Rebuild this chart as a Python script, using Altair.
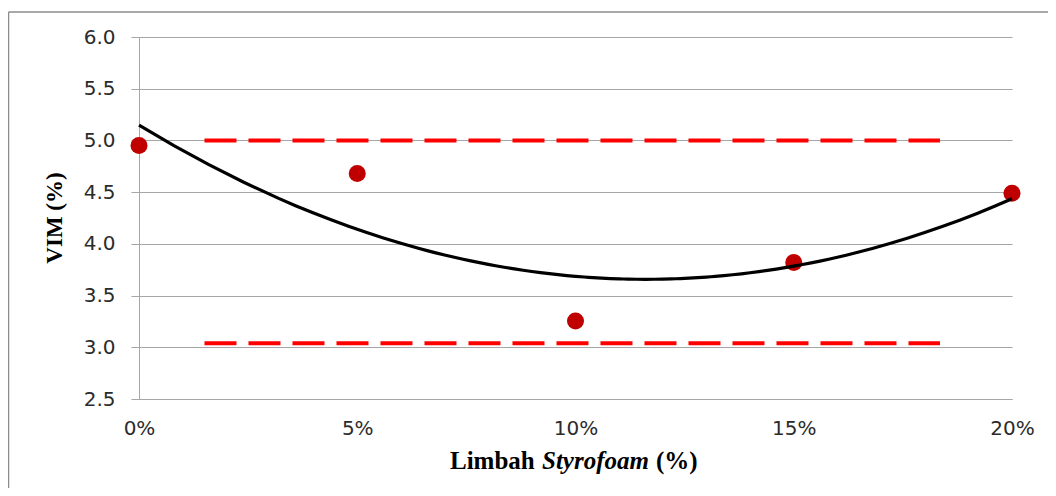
import altair as alt
import pandas as pd

# Data
styrofoam_pct = [0, 5, 10, 15, 20]
vim_values = [4.95, 4.68, 3.255, 3.82, 4.49]

limit_levels = [5.0, 3.04]
limit_start = [1.5, 1.5]
limit_end = [18.35, 18.35]

y_ticks = [2.5, 3.0, 3.5, 4.0, 4.5, 5.0, 5.5, 6.0]
x_ticks = [0, 5, 10, 15, 20]

pts = pd.DataFrame({"x": styrofoam_pct, "y": vim_values})
lims = pd.DataFrame({"x": limit_start, "x2": limit_end, "y": limit_levels})

W, H = 873, 362
GRID = "#A6A6A6"
TICKFONT = "DejaVu Sans"
TITLEFONT = "Liberation Serif"

xs = alt.Scale(domain=[0, 20], nice=False, zero=False)
ys = alt.Scale(domain=[2.5, 6.0], nice=False, zero=False)

base = alt.Chart(pts)

points = base.mark_circle(size=290, color="#C00000", opacity=1).encode(
    x=alt.X("x:Q", scale=xs,
            axis=alt.Axis(values=x_ticks, labelExpr="datum.value + '%'", grid=False,
                          ticks=False, tickSize=0, domain=True, domainColor=GRID,
                          labelPadding=19, labelFont=TICKFONT, labelFontSize=20,
                          labelColor="#2b2b2b", title=None, labelFlush=False)),
    y=alt.Y("y:Q", scale=ys,
            axis=alt.Axis(values=y_ticks, format=".1f", grid=True, gridColor=GRID,
                          domainColor=GRID, tickColor=GRID, tickSize=8,
                          labelPadding=16, labelFont=TICKFONT, labelFontSize=20,
                          labelColor="#2b2b2b", title=None)),
)

trend = base.transform_regression("x", "y", method="poly", order=2, extent=[0, 20]).mark_line(
    color="black", strokeWidth=3.2
).encode(x=alt.X("x:Q", scale=xs), y=alt.Y("y:Q", scale=ys))

limits = alt.Chart(lims).mark_rule(color="#FF0000", strokeWidth=4, strokeDash=[32, 12]).encode(
    x=alt.X("x:Q", scale=xs), x2="x2:Q", y=alt.Y("y:Q", scale=ys)
)

xt1 = alt.Chart(pd.DataFrame({"t": ["Limbah"]})).mark_text(
    align="left", baseline="alphabetic", font=TITLEFONT, fontSize=25, fontWeight="bold", color="black"
).encode(text="t:N", x=alt.value(311), y=alt.value(432))
xt2 = alt.Chart(pd.DataFrame({"t": ["Styrofoam"]})).mark_text(
    align="left", baseline="alphabetic", font=TITLEFONT, fontSize=25, fontWeight="bold",
    fontStyle="italic", color="black"
).encode(text="t:N", x=alt.value(403), y=alt.value(432))
xt3 = alt.Chart(pd.DataFrame({"t": ["(%)"]})).mark_text(
    align="left", baseline="alphabetic", font=TITLEFONT, fontSize=25, fontWeight="bold", color="black"
).encode(text="t:N", x=alt.value(517), y=alt.value(432))
yt = alt.Chart(pd.DataFrame({"t": ["VIM (%)"]})).mark_text(
    align="center", baseline="middle", angle=270, font=TITLEFONT, fontSize=23, fontWeight="bold",
    color="black"
).encode(text="t:N", x=alt.value(-84), y=alt.value(181))

border_left = alt.Chart(pd.DataFrame({"a": [0]})).mark_rule(color="#8C8C8C", strokeWidth=1.5).encode(
    x=alt.value(-130.5), y=alt.value(-25), y2=alt.value(460)
)
border_top = alt.Chart(pd.DataFrame({"a": [0]})).mark_rule(color="#8C8C8C", strokeWidth=1.5).encode(
    x=alt.value(-130.5), x2=alt.value(920), y=alt.value(-25)
)

chart = alt.layer(
    points, limits, trend, xt1, xt2, xt3, yt, border_left, border_top
).properties(
    width=W, height=H,
    autosize=alt.AutoSizeParams(type="none"),
    padding={"left": 131, "top": 29, "right": 36, "bottom": 89},
).configure_view(stroke=None)

chart.save("out.html", embed_options={"renderer": "svg", "actions": False})
